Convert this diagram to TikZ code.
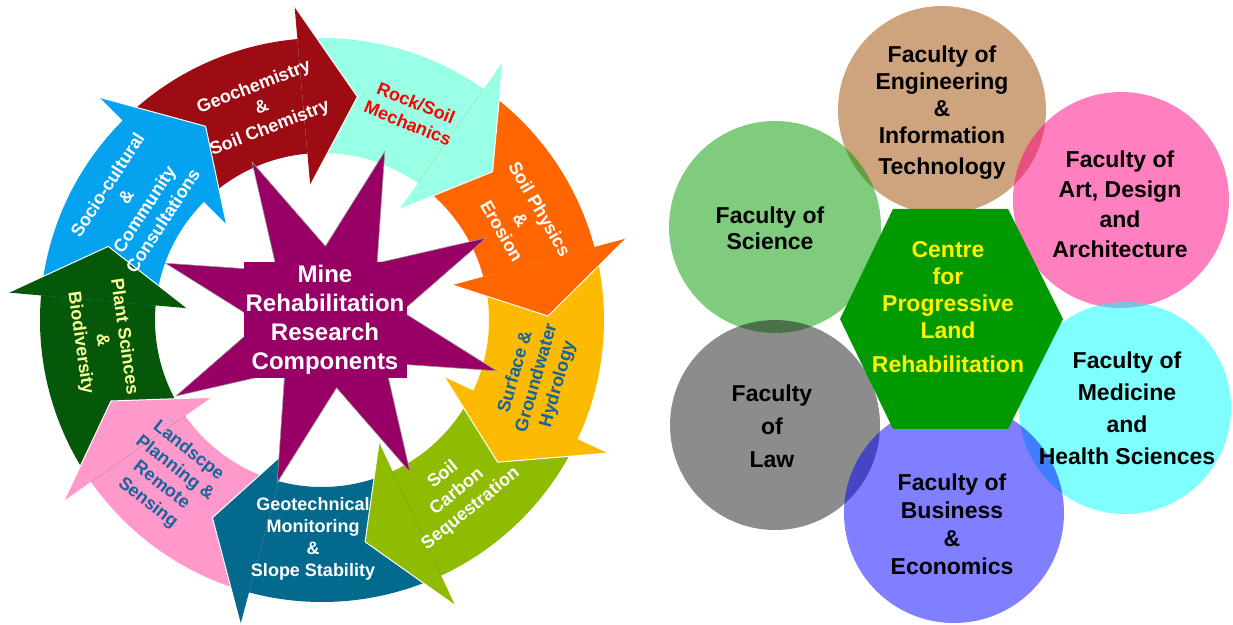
\documentclass[tikz,border=0pt]{standalone}
\usepackage{fontspec}
\setmainfont{Liberation Sans}
\definecolor{geored}{HTML}{9C0C12}
\definecolor{rockcyan}{HTML}{99FFE5}
\definecolor{erosorange}{HTML}{FF6600}
\definecolor{hydroyellow}{HTML}{FCBB00}
\definecolor{carbgreen}{HTML}{8FBC00}
\definecolor{geoteal}{HTML}{036A8E}
\definecolor{landpink}{HTML}{FF99CC}
\definecolor{plantgreen}{HTML}{05570A}
\definecolor{sociblue}{HTML}{05A2F0}
\definecolor{starpurple}{HTML}{990066}
\definecolor{labelblue}{HTML}{17649A}
\definecolor{plantyellow}{HTML}{FFFF99}
\definecolor{engbrown}{HTML}{9D4900}
\definecolor{scigreen}{HTML}{009900}
\definecolor{lawgrey}{HTML}{191919}
\definecolor{busblue}{HTML}{0000FF}
\definecolor{medcyan}{HTML}{00FFFF}
\definecolor{artpink}{HTML}{FF0080}
\definecolor{hexgreen}{HTML}{009900}
\begin{document}
\begin{tikzpicture}[x=1pt, y=1pt,
    seg/.style={align=center, font=\fontsize{18}{22}\selectfont\bfseries},
    fac/.style={align=center, text=black, font=\fontsize{23}{#1}\selectfont\bfseries},
    fac/.default=27,
    bubble/.style={circle, fill=#1, fill opacity=0.5, inner sep=0pt, outer sep=0pt}]
    \useasboundingbox (0,0) rectangle (1233,624);
    % Anello delle componenti
    \begin{scope}[shift={(322,304)}]
        \foreach \a/\b/\c in {135/95/geored, 95/55/rockcyan, 55/15/erosorange, 15/-25/hydroyellow, -25/-65/carbgreen,
                              -65/-105/geoteal, -105/-145/landpink, -145/-185/plantgreen, -185/-225/sociblue}
            \fill[\c] (\a:167pt) arc[start angle=\a, end angle=\b-1, radius=167pt]
                -- (\b-1:282pt) arc[start angle=\b-1, end angle=\a, radius=282pt] -- cycle;
        % Punte delle frecce
        \foreach \b/\c in {95/geored, 55/rockcyan, 15/erosorange, -25/hydroyellow, -65/carbgreen,
                           -105/geoteal, -145/landpink, -185/plantgreen, -225/sociblue} {
            \fill[\c] (\b:135pt) -- (\b-14:226pt) -- (\b:315pt) -- cycle;
            \draw[white, line width=1pt, line join=round] (\b:135pt) -- (\b-14:226pt) -- (\b:315pt);
        }
    \end{scope}
    % Etichette dell'anello
    \node[seg, text=white, rotate=21] (geochem) at (262,516) {Geochemistry\\\&\\Soil Chemistry};
    \node[seg, text=red, rotate=-22] (rock) at (412,511) {Rock/Soil\\Mechanics};
    \node[seg, text=white, rotate=-60] (physics) at (521,404) {Soil Physics\\\&\\Erosion};
    \node[seg, text=labelblue, rotate=74] (hydro) at (537,246) {Surface \&\\Groundwater\\Hydrology};
    \node[seg, text=white, rotate=39] (carbon) at (457,132) {Soil\\Carbon\\Sequestration};
    \node[seg, text=white] (geotech) at (313,85) {Geotechnical\\Monitoring\\\&\\Slope Stability};
    \node[seg, text=labelblue, rotate=-38] (landscape) at (168,147) {Landscpe\\Planning \&\\Remote\\Sensing};
    \node[seg, text=plantyellow, rotate=-82] (plant) at (102,284) {Plant Scinces\\\&\\Biodiversity};
    \node[seg, text=white, rotate=57] (socio) at (135,421) {Socio-cultural\\\&\\Community\\Consultations};
    % Stella centrale
    \begin{scope}[shift={(331,307)}]
        \filldraw[fill=starpurple, draw=gray!80, line width=0.6pt] (72:174pt)
            \foreach \k in {1,...,8} { -- ({72-45*\k+22.5}:71pt) -- ({72-45*\k}:174pt) } -- cycle;
    \end{scope}
    \node[fill=starpurple, text=white, align=center, font=\fontsize{24}{29}\selectfont\bfseries,
          minimum width=163pt, minimum height=116pt, inner sep=0pt] (mine) at (325,304)
          {Mine\\Rehabilitation\\Research\\Components};
    % Cerchi delle facolta
    \node[bubble=engbrown, minimum size=208pt] (eng) at (942,514) {};
    \node[bubble=scigreen, minimum size=212pt] (sci) at (775,397) {};
    \node[bubble=artpink, minimum size=216pt] (art) at (1121,424) {};
    \node[bubble=lawgrey, minimum size=210pt] (law) at (775,199) {};
    \node[bubble=medcyan, minimum size=212pt] (med) at (1125,216) {};
    \node[bubble=busblue, minimum size=220pt] (bus) at (954,111) {};
    % Esagono centrale
    \fill[hexgreen] (893,415) -- (1008,415) -- (1063,305) -- (1008,195) -- (893,195) -- (840,305) -- cycle;
    % Testi
    \node[fac=27] (engtext) at (942,511) {Faculty of\\Engineering\\\&\\Information\\[4pt]Technology};
    \node[fac=26] (scitext) at (770,396) {Faculty of\\Science};
    \node[fac=30] (arttext) at (1120,420) {Faculty of\\Art, Design\\and\\Architecture};
    \node[fac=33] (lawtext) at (772,198) {Faculty\\of\\Law};
    \node[fac=32] (medtext) at (1127,216) {Faculty of\\Medicine\\and\\Health Sciences};
    \node[fac=28] (bustext) at (952,100) {Faculty of\\Business\\\&\\Economics};
    \node[fac=27, text=yellow] (centre) at (948,317) {Centre\\for\\Progressive\\Land\\[7pt]Rehabilitation};
\end{tikzpicture}
\end{document}
